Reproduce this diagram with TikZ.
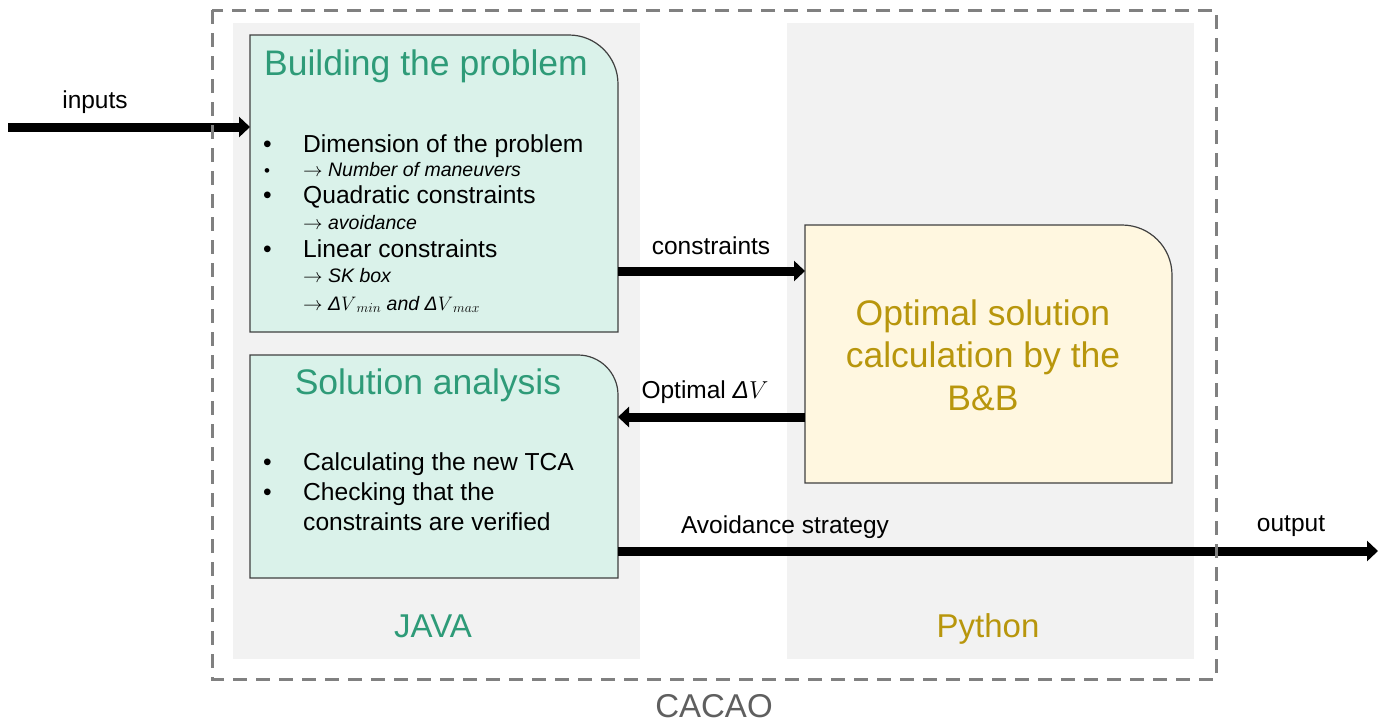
\RequirePackage{fix-cm}
\documentclass[tikz,border=0pt]{standalone}
\usepackage{fontspec}
\setmainfont{Liberation Sans}
\usetikzlibrary{arrows.meta}
\definecolor{panel}{HTML}{F2F2F2}
\definecolor{greenfill}{HTML}{DAF2EA}
\definecolor{yellowfill}{HTML}{FFF7E0}
\definecolor{greentext}{HTML}{2E9B78}
\definecolor{goldtext}{HTML}{B8960C}
\definecolor{dashgrey}{HTML}{808080}
\definecolor{cacaogrey}{HTML}{5F5F5F}
\definecolor{boxline}{HTML}{404040}
\newcommand{\fs}[1]{\fontsize{#1}{#1}\selectfont}
\newcommand{\dV}{\textit{Δ}$V$}
\begin{document}
\begin{tikzpicture}[x=1pt,y=-1pt,
  frame/.style={draw=none,inner sep=0pt,outer sep=0pt,minimum width=#1},
  boxdraw/.style={draw=boxline,line width=1.2pt},
  arr/.style={line width=9pt,-{Triangle[length=11pt,width=20pt]}},
  lbl/.style={anchor=base,inner sep=0pt,font=\fs{24.5}},
  title/.style={anchor=base,inner sep=0pt,text=greentext,font=\fs{35.5}},
  bul/.style={anchor=base west,inner sep=0pt,font=\fs{24.6}},
  sub/.style={anchor=base west,inner sep=0pt,font=\fs{19.5}\itshape},
  panellbl/.style={anchor=base,inner sep=0pt,font=\fs{33}}
]
\useasboundingbox (0,0) rectangle (1383,724);
% panels
\fill[panel] (233,23) rectangle (640,659);
\fill[panel] (787,23) rectangle (1194,659);
% box frames
\node[frame=368pt,minimum height=297pt] (b1) at (434,183.5) {};
\node[frame=368pt,minimum height=223pt] (b2) at (434,466.5) {};
\node[frame=367pt,minimum height=258pt] (b3) at (988.5,354) {};
\draw[boxdraw,fill=greenfill] (b1.south west) -- (b1.north west) [rounded corners=49pt] -- (b1.north east) [sharp corners] -- (b1.south east) -- cycle;
\draw[boxdraw,fill=greenfill] (b2.south west) -- (b2.north west) [rounded corners=40pt] -- (b2.north east) [sharp corners] -- (b2.south east) -- cycle;
\draw[boxdraw,fill=yellowfill] (b3.south west) -- (b3.north west) [rounded corners=50pt] -- (b3.north east) [sharp corners] -- (b3.south east) -- cycle;
% box 1 text
\node[title] (t1) at (426,75) {Building the problem};
\node[bul] (k1) at (263,152) {•};
\node[bul] (l1) at (303,152) {Dimension of the problem};
\node[bul,font=\fs{17}] (k2) at (264,176) {•};
\node[sub] (l2) at (303,176) {$\rightarrow$ Number of maneuvers};
\node[bul] (k3) at (263,203) {•};
\node[bul] (l3) at (303,203) {Quadratic constraints};
\node[sub] (l4) at (303,229) {$\rightarrow$ avoidance};
\node[bul] (k5) at (263,257) {•};
\node[bul] (l5) at (303,257) {Linear constraints};
\node[sub] (l6) at (303,282) {$\rightarrow$ SK box};
\node[sub] (l7) at (303,310) {$\rightarrow$ \dV$_{\textstyle\scriptstyle min}$ and \dV$_{\textstyle\scriptstyle max}$};
% box 2 text
\node[title] (t2) at (428,394) {Solution analysis};
\node[bul] (m1) at (263,470) {•};
\node[bul] (n1) at (303,470) {Calculating the new TCA};
\node[bul] (m2) at (263,500) {•};
\node[bul] (n2) at (303,500) {Checking that the};
\node[bul] (n3) at (303,530) {constraints are verified};
% box 3 text
\node[align=center,text=goldtext,font=\fs{35.5},inner sep=0pt,anchor=base] (t3) at (983,410)
  {Optimal solution\\[7pt]calculation by the\\[7pt]B\&B};
% panel labels
\node[panellbl,text=greentext] (java) at (433,637) {JAVA};
\node[panellbl,text=goldtext] (py) at (988,637) {Python};
\node[anchor=base,inner sep=0pt,font=\fs{33},text=cacaogrey] (cacao) at (714,717) {CACAO};
% connectors
\coordinate (in) at (8,127);
\coordinate (out) at (1378,551);
\coordinate (c1) at (700,271);
\coordinate (c2) at (700,417);
\draw[arr] (in) -- (b1.west |- in);
\draw[arr] (b1.east |- c1) -- (b3.west |- c1);
\draw[arr] (b3.west |- c2) -- (b2.east |- c2);
\draw[arr] (b2.east |- out) -- (out);
% labels
\node[lbl] (linputs) at (95,108) {inputs};
\node[lbl] (lcons) at (711,254) {constraints};
\node[lbl] (lopt) at (705,398) {Optimal \dV};
\node[lbl] (lavoid) at (785,533) {Avoidance strategy};
\node[lbl] (lout) at (1291,531) {output};
% CACAO frame
\draw[dashgrey,line width=3pt,dash pattern=on 14pt off 9pt] (212,10) rectangle (1216,679);
\end{tikzpicture}
\end{document}
